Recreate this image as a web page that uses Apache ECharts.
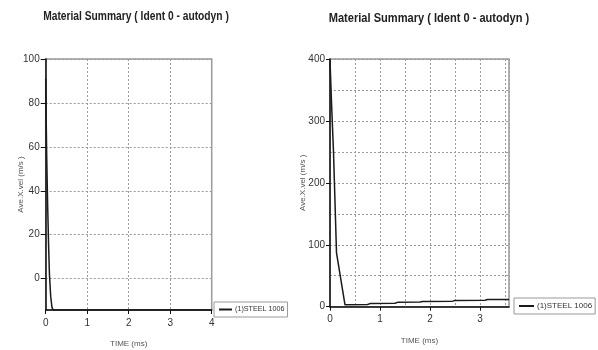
<!DOCTYPE html>
<html>
<head>
<meta charset="utf-8">
<script src="https://cdn.jsdelivr.net/npm/echarts@6/dist/echarts.min.js"></script>
<style>
    html, body { margin: 0; padding: 0; background: #fff; }
    #main { width: 598px; height: 350px; }
</style>
</head>
<body>
<div id="main"></div>
<script>
// left plot (time in ms, velocity in m/s)
var leftTime = [0, 0.01, 0.025, 0.045, 0.07, 0.09, 0.12, 0.15, 0.18, 4];
var leftVel = [91, 75, 55, 35, 15, 2, -8, -13, -14.3, -14.3];
// right plot
var rightTime = [0, 0.03, 0.07, 0.13, 0.3, 0.75, 0.8, 1.3, 1.35, 1.8, 1.85, 2.45, 2.5, 3.1, 3.15, 3.58];
var rightVel = [398, 330, 250, 87, 3, 3.5, 5, 5.5, 7, 7.5, 8.5, 9, 10, 10.5, 11.5, 11.5];
var leftYLabels = [0, 20, 40, 60, 80, 100];
var seriesName = '(1)STEEL 1006';
var titleText = 'Material Summary ( Ident 0 - autodyn )';

function pairs(xs, ys) {
    var out = [];
    for (var i = 0; i < xs.length; i++) {
        out.push([xs[i], ys[i]]);
    }
    return out;
}

var font = '"Liberation Sans", Arial, sans-serif';
var dotted = { show: true, lineStyle: { color: '#9a9a9a', type: [2, 2], width: 1 } };
var blackLine = { show: true, onZero: false, lineStyle: { color: '#111', width: 1.5 } };
var labelStyle = { color: '#333', fontSize: 10, fontFamily: font };
var nameStyle = { color: '#555', fontSize: 8, fontFamily: font };

// titles are drawn squeezed sideways, the original uses a narrow font
function makeTitle(cx, y, size) {
    return {
        type: 'text', x: cx, y: y, scaleX: 0.82, originX: 0,
        style: { text: titleText, fontSize: size, fontWeight: 'bold', fontFamily: font,
                 fill: '#222', align: 'center', verticalAlign: 'middle' }
    };
}

var chart = echarts.init(document.getElementById('main'));
var option = {
    animation: false,
    graphic: [
        makeTitle(136, 17, 12.5),
        makeTitle(429, 18, 13.5)
    ],
    legend: [
        { data: [seriesName], left: 214, top: 302, icon: 'rect', itemWidth: 13, itemHeight: 2, itemGap: 5,
          borderColor: '#999', borderWidth: 1, borderRadius: 0, padding: [4, 3, 4, 5],
          textStyle: { fontSize: 7.2, color: '#333', fontFamily: font, padding: [0, 0, 0, -2] } },
        { data: [seriesName], left: 514, top: 298, icon: 'rect', itemWidth: 15, itemHeight: 2, itemGap: 5,
          borderColor: '#999', borderWidth: 1, borderRadius: 0, padding: [4, 3, 4, 5],
          textStyle: { fontSize: 8, color: '#333', fontFamily: font, padding: [0, 0, 0, -2] } }
    ],
    grid: [
        { left: 45.7, top: 59, width: 166, height: 251, show: true, borderColor: '#9a9a9a', borderWidth: 1.5,
          outerBoundsMode: 'none', containLabel: false },
        { left: 330, top: 59, width: 179, height: 247.7, show: true, borderColor: '#9a9a9a', borderWidth: 1.5,
          outerBoundsMode: 'none', containLabel: false }
    ],
    xAxis: [
        { type: 'value', gridIndex: 0, position: 'bottom', min: 0, max: 4, interval: 1,
          name: 'TIME (ms)', nameLocation: 'middle', nameGap: 30, nameTextStyle: nameStyle,
          axisLine: blackLine, axisTick: { show: true, length: 4, lineStyle: { color: '#111' } },
          axisLabel: { margin: 8, textStyle: labelStyle }, splitLine: dotted },
        // right plot: grid lines every 0.5
        { type: 'value', gridIndex: 1, position: 'bottom', min: 0, max: 3.58, interval: 0.5,
          axisLine: blackLine, axisTick: { show: false }, axisLabel: { show: false },
          splitLine: dotted },
        // right plot: labels every 1
        { type: 'value', gridIndex: 1, position: 'bottom', min: 0, max: 3.58, interval: 1,
          name: 'TIME (ms)', nameLocation: 'middle', nameGap: 30, nameTextStyle: nameStyle,
          axisLine: { show: false, onZero: false }, axisTick: { show: true, length: 4, lineStyle: { color: '#111' } },
          axisLabel: { margin: 8, showMaxLabel: false, textStyle: labelStyle }, splitLine: { show: false } }
    ],
    yAxis: [
        { type: 'value', gridIndex: 0, position: 'left', min: -14.3, max: 100,
          name: 'Ave.X.vel (m/s )', nameLocation: 'middle', nameGap: 21, nameMoveOverlap: false,
          nameTextStyle: nameStyle,
          axisLine: blackLine,
          axisTick: { show: true, length: 5, customValues: leftYLabels, lineStyle: { color: '#111' } },
          axisLabel: { margin: 6, customValues: leftYLabels, textStyle: labelStyle },
          splitLine: dotted },
        { type: 'value', gridIndex: 1, position: 'left', min: 0, max: 400, interval: 50,
          axisLine: blackLine, axisTick: { show: false }, axisLabel: { show: false },
          splitLine: dotted },
        { type: 'value', gridIndex: 1, position: 'left', min: 0, max: 400, interval: 100,
          name: 'Ave.X.vel (m/s )', nameLocation: 'middle', nameGap: 23, nameMoveOverlap: false,
          nameTextStyle: nameStyle,
          axisLine: { show: false, onZero: false }, axisTick: { show: true, length: 4, lineStyle: { color: '#111' } },
          axisLabel: { margin: 5, textStyle: labelStyle }, splitLine: { show: false } }
    ],
    series: [
        { name: seriesName, type: 'line', xAxisIndex: 0, yAxisIndex: 0, symbol: 'none',
          data: pairs(leftTime, leftVel), lineStyle: { color: '#1a1a1a', width: 1.5 }, itemStyle: { color: '#1a1a1a' } },
        { name: seriesName, type: 'line', xAxisIndex: 1, yAxisIndex: 1, symbol: 'none',
          data: pairs(rightTime, rightVel), lineStyle: { color: '#1a1a1a', width: 1.5 }, itemStyle: { color: '#1a1a1a' } }
    ]
};
chart.setOption(option);
</script>
</body>
</html>
